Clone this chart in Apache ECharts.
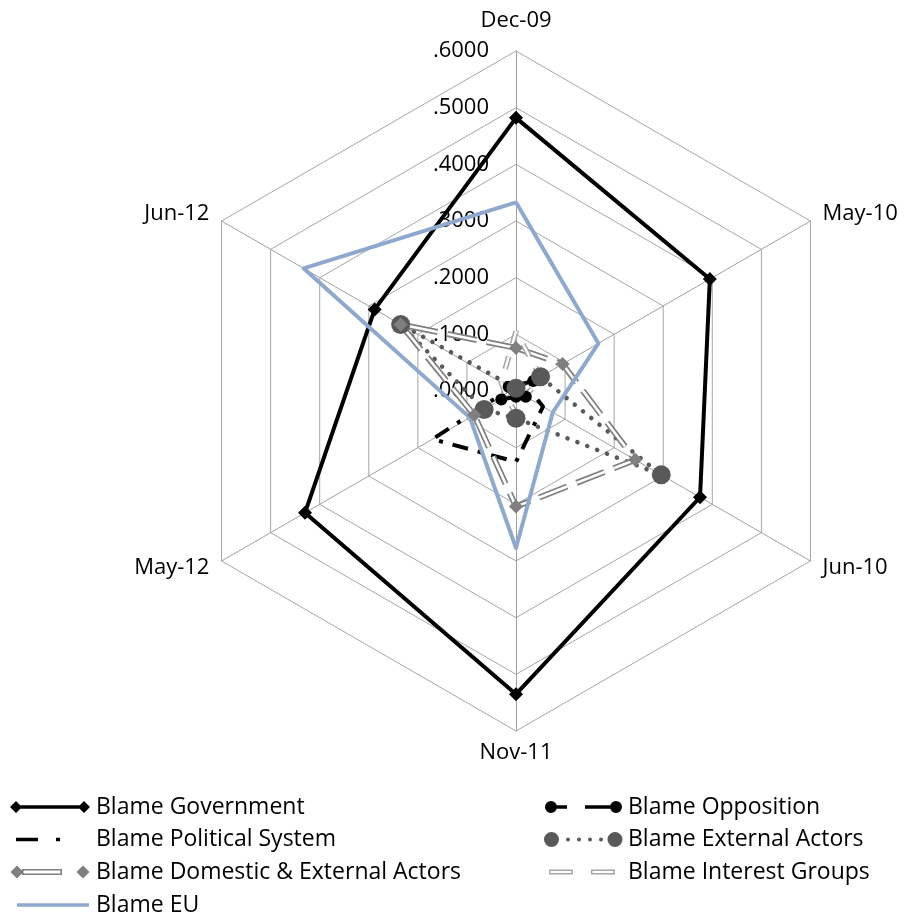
<!DOCTYPE html>
<html><head><meta charset="utf-8">
<script src="https://cdn.jsdelivr.net/npm/echarts@6/dist/echarts.min.js"></script>
<style>html,body{margin:0;padding:0;background:#fff}#c{width:909px;height:914px}</style>
</head><body><div id="c"></div>
<script>
// ---- data (clockwise from top, as in the original) ----
const categories = ['Dec-09', 'May-10', 'Jun-10', 'Nov-11', 'May-12', 'Jun-12'];
const axisTicks = ['.0000', '.1000', '.2000', '.3000', '.4000', '.5000', '.6000'];
const blameGovernment      = [0.482, 0.395, 0.375, 0.535, 0.430, 0.288];
const blameOpposition      = [0.010, 0.035, 0.020, 0.010, 0.030, 0.015];
const blamePoliticalSystem = [0.010, 0.020, 0.055, 0.125, 0.170, 0.010];
const blameExternalActors  = [0.005, 0.050, 0.296, 0.048, 0.065, 0.235];
const blameDomesticExternal= [0.076, 0.095, 0.243, 0.204, 0.085, 0.235];
const blameInterestGroups  = [0.105, 0.050, 0.020, 0.040, 0.020, 0.030];
const blameEU              = [0.333, 0.168, 0.075, 0.277, 0.094, 0.433];

const FONT = '"Open Sans", "Liberation Sans", sans-serif';
// ECharts lays out radar indicators counter-clockwise; Excel goes clockwise.
const order = categories.map((c, i) => (i === 0 ? 0 : categories.length - i));
const reorder = a => order.map(i => a[i]);
const nameGapByCat = [19, 14, 14, 11, 14, 14];

const indicator = order.map((ci, k) => {
  const ind = { name: categories[ci], min: 0, max: 0.6, nameGap: nameGapByCat[ci] };
  if (k === 0) {
    ind.axisLabel = {
      show: true, margin: 27, color: '#000', fontFamily: FONT, fontSize: 22,
      padding: [7, 0, 0, 0],
      formatter: v => axisTicks[Math.round(v * 10)]
    };
  }
  return ind;
});

const S = 'M0 0L0.01 0L0.01 0.01Z M82 16L81.99 16L81.99 15.99Z ';
const icons = {
  'Blame Government': 'path://' + S + 'M1 8L7 2L13 8L7 14Z M69 8L75 2L81 8L75 14Z M7 6.2H75V9.8H7Z',
  'Blame Opposition': 'path://' + S + 'M4 8A6 6 0 1 1 16 8A6 6 0 1 1 4 8Z M69 8A6 6 0 1 1 81 8A6 6 0 1 1 69 8Z M14 6.2H26V9.8H14Z M44 6.2H72V9.8H44Z',
  'Blame Political System': 'path://' + S + 'M7 6.2H29V9.8H7Z M47 6.3H51V9.7H47Z',
  'Blame External Actors': 'path://' + S + 'M3 8A7.5 7.5 0 1 1 18 8A7.5 7.5 0 1 1 3 8Z M66.5 8A7.5 7.5 0 1 1 81.5 8A7.5 7.5 0 1 1 66.5 8Z M25 8A2 2 0 1 1 29 8A2 2 0 1 1 25 8Z M36 8A2 2 0 1 1 40 8A2 2 0 1 1 36 8Z M47 8A2 2 0 1 1 51 8A2 2 0 1 1 47 8Z M58 8A2 2 0 1 1 62 8A2 2 0 1 1 58 8Z',
  'Blame Domestic & External Actors': 'path://' + S + 'M1.5 8L8 1.5L14.5 8L8 14.5Z M67.5 8L74 1.5L80.5 8L74 14.5Z M13 5H53V11H13Z M14.6 6.6V9.4H51.4V6.6Z',
  'Blame Interest Groups': 'path://' + S + 'M8 5.5H32V10.5H8Z M9.5 7V9H30.5V7Z M50 5.5H74V10.5H50Z M51.5 7V9H72.5V7Z',
  'Blame EU': 'path://' + S + 'M8 6.2H80V9.8H8Z'
};

function rs(name, values, o) {
  return {
    type: 'radar', name: name, silent: true,
    symbol: o.symbol || 'none', symbolSize: o.size || 0,
    itemStyle: { color: o.color, borderWidth: 0 },
    lineStyle: Object.assign({ color: o.color, width: 0, type: 'solid', cap: 'butt' }, o.line || {}),
    data: [{ name: name, value: reorder(values) }]
  };
}

const series = [
  rs('Blame Government', blameGovernment, { color: '#000', symbol: 'diamond', size: 14, line: { width: 4 } }),
  rs('Blame Opposition', blameOpposition, { color: '#000', symbol: 'circle', size: 12, line: { width: 4, type: [12, 9] } }),
  rs('Blame Political System', blamePoliticalSystem, { color: '#000', line: { width: 4, type: [16, 10, 4, 10] } }),
  rs('Blame External Actors', blameExternalActors, { color: '#595959', symbol: 'circle', size: 19, line: { width: 4.5, type: [0.1, 10.5], cap: 'round' } }),
  rs('Blame Domestic & External Actors', blameDomesticExternal, { color: '#7F7F7F', line: { width: 6, type: [30, 10] } }),
  rs('Blame Domestic & External Actors', blameDomesticExternal, { color: '#FFFFFF', line: { width: 2.6, type: [30, 10] } }),
  rs('Blame Domestic & External Actors', blameDomesticExternal, { color: '#7F7F7F', symbol: 'diamond', size: 14, line: { width: 0 } }),
  rs('Blame Interest Groups', blameInterestGroups, { color: '#A6A6A6', line: { width: 5.5, type: [13, 13] } }),
  rs('Blame Interest Groups', blameInterestGroups, { color: '#FFFFFF', line: { width: 2.4, type: [13, 13] } }),
  rs('Blame EU', blameEU, { color: '#8EA9D0', line: { width: 4 } })
];

const legendCommon = {
  orient: 'vertical', itemWidth: 82, itemHeight: 16, itemGap: 8.5, selectedMode: false,
  padding: 5,
  itemStyle: { borderWidth: 0 },
  textStyle: { fontFamily: FONT, fontSize: 23, color: '#000', lineHeight: 24 }
};
const leftNames = ['Blame Government', 'Blame Political System', 'Blame Domestic & External Actors'];
const bottomNames = ['Blame EU'];
const rightNames = ['Blame Opposition', 'Blame External Actors', 'Blame Interest Groups'];
const mk = names => names.map(n => ({ name: n, icon: icons[n] }));

const chart = echarts.init(document.getElementById('c'), null, { renderer: 'canvas' });
chart.setOption({
  animation: false,
  backgroundColor: '#fff',
  radar: {
    center: [516, 391], radius: 340, startAngle: 90, splitNumber: 6, shape: 'polygon',
    indicator: indicator,
    axisName: { color: '#000', fontFamily: FONT, fontSize: 22 },
    axisLine: { lineStyle: { color: '#A0A0A0', width: 1 } },
    splitLine: { lineStyle: { color: '#A6A6A6', width: 1 } },
    splitArea: { show: false },
    axisTick: { show: false },
    axisLabel: { show: false }
  },
  legend: [
    Object.assign({ left: 4, top: 790, data: mk(leftNames) }, legendCommon),
    Object.assign({ left: 4, top: 888, data: mk(bottomNames) }, legendCommon),
    Object.assign({ left: 536, top: 790, data: mk(rightNames) }, legendCommon)
  ],
  series: series
});
</script></body></html>
